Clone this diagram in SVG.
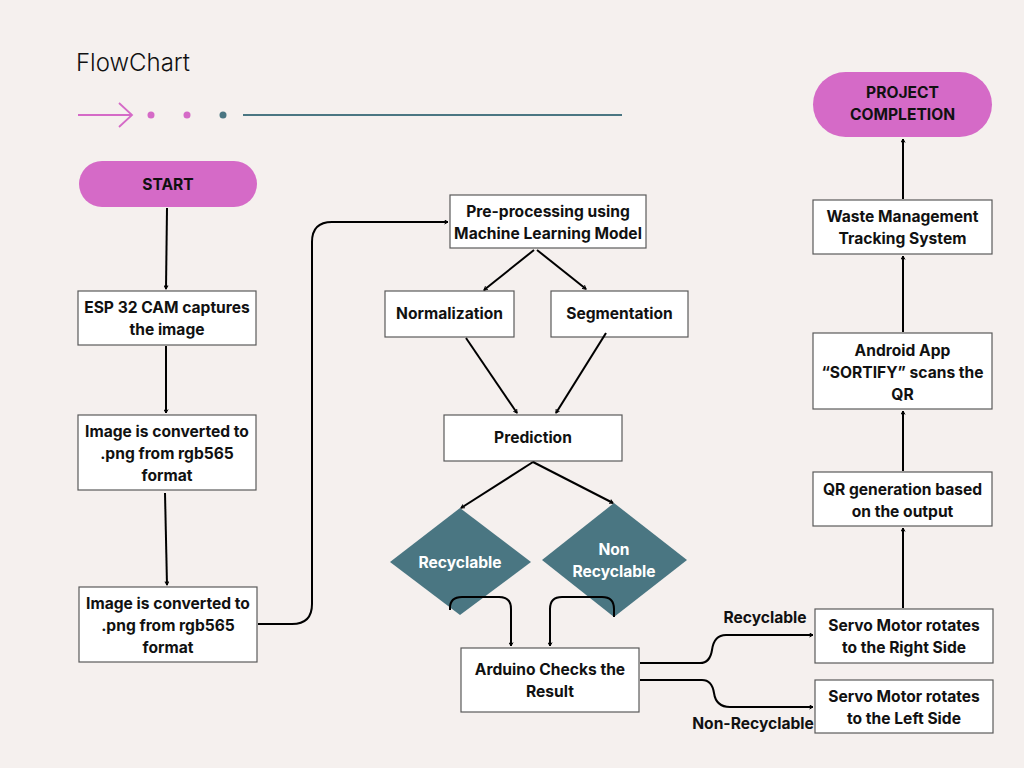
<svg xmlns="http://www.w3.org/2000/svg" width="1024" height="768" viewBox="0 0 1024 768">
<defs>
<style>
.bg{fill:#f5f0ee}
.box{fill:#ffffff;stroke:#5a5a5a;stroke-width:1.2}
.term{fill:#d56ac7}
.dia{fill:#4a7682}
.t{font-family:Inter,"Liberation Sans",sans-serif;font-weight:700;font-size:15.6px;fill:#111;text-anchor:middle}
.tw{font-family:Inter,"Liberation Sans",sans-serif;font-weight:700;font-size:15.6px;fill:#ffffff;text-anchor:middle}
.c{fill:none;stroke:#000;stroke-width:2;marker-end:url(#ah)}
</style>
<marker id="ah" viewBox="0 0 10 10" refX="8" refY="5" markerWidth="5" markerHeight="5" orient="auto" markerUnits="userSpaceOnUse">
<path d="M1,1 L8,5 L1,9" fill="none" stroke="#000" stroke-width="2"/>
</marker>
</defs>
<rect class="bg" x="0" y="0" width="1024" height="768"/>

<g id="header">
<text x="76" y="71" font-family="Inter,'Liberation Sans',sans-serif" font-weight="300" font-size="24" fill="#111">FlowChart</text>
<path d="M78,115 H132 M119,103 L132,115 L119,127" fill="none" stroke="#d56ac7" stroke-width="1.8"/>
<circle cx="151" cy="115" r="3.5" fill="#d56ac7"/>
<circle cx="187" cy="115" r="3.5" fill="#d56ac7"/>
<circle cx="223" cy="115" r="3.5" fill="#4a7682"/>
<line x1="243" y1="115" x2="622" y2="115" stroke="#4a7682" stroke-width="2"/>
</g>

<g id="start">
<rect class="term" x="79" y="161" width="178" height="46" rx="23"/>
<text class="t" x="168" y="190">START</text>
</g>
<g id="esp32">
<rect class="box" x="78" y="291" width="178" height="54"/>
<text class="t" x="167" y="313">ESP 32 CAM captures</text>
<text class="t" x="167" y="335">the image</text>
</g>
<g id="convert1">
<rect class="box" x="78" y="415" width="178" height="75"/>
<text class="t" x="167" y="437">Image is converted to</text>
<text class="t" x="167" y="459">.png from rgb565</text>
<text class="t" x="167" y="481">format</text>
</g>
<g id="convert2">
<rect class="box" x="79" y="587" width="178" height="75"/>
<text class="t" x="168" y="609">Image is converted to</text>
<text class="t" x="168" y="631">.png from rgb565</text>
<text class="t" x="168" y="653">format</text>
</g>
<g id="preprocess">
<rect class="box" x="450" y="195" width="196" height="53"/>
<text class="t" x="548" y="217">Pre-processing using</text>
<text class="t" x="548" y="239">Machine Learning Model</text>
</g>
<g id="normalization">
<rect class="box" x="385" y="291" width="129" height="46"/>
<text class="t" x="449.5" y="319">Normalization</text>
</g>
<g id="segmentation">
<rect class="box" x="551" y="291" width="137" height="46"/>
<text class="t" x="619.5" y="319">Segmentation</text>
</g>
<g id="prediction">
<rect class="box" x="444" y="415" width="178" height="46"/>
<text class="t" x="533" y="443">Prediction</text>
</g>
<g id="recyclable">
<polygon class="dia" points="460,508 531,562 460,615 390,562"/>
<text class="tw" x="460" y="568">Recyclable</text>
</g>
<g id="nonrecyclable">
<polygon class="dia" points="614,503 687,560 614,617 542,560"/>
<text class="tw" x="614" y="555">Non</text>
<text class="tw" x="614" y="577">Recyclable</text>
</g>
<g id="arduino">
<rect class="box" x="461" y="648" width="178" height="64"/>
<text class="t" x="550" y="675">Arduino Checks the</text>
<text class="t" x="550" y="697">Result</text>
</g>
<g id="servoright">
<rect class="box" x="815" y="609" width="178" height="54"/>
<text class="t" x="904" y="631">Servo Motor rotates</text>
<text class="t" x="904" y="653">to the Right Side</text>
</g>
<g id="servoleft">
<rect class="box" x="815" y="680" width="178" height="53"/>
<text class="t" x="904" y="702">Servo Motor rotates</text>
<text class="t" x="904" y="724">to the Left Side</text>
</g>
<g id="qr">
<rect class="box" x="813" y="472" width="179" height="54"/>
<text class="t" x="902.5" y="495">QR generation based</text>
<text class="t" x="902.5" y="517">on the output</text>
</g>
<g id="android">
<rect class="box" x="813" y="333" width="179" height="76"/>
<text class="t" x="902.5" y="356">Android App</text>
<text class="t" x="902.5" y="378">“SORTIFY” scans the</text>
<text class="t" x="902.5" y="400">QR</text>
</g>
<g id="waste">
<rect class="box" x="813" y="200" width="179" height="54"/>
<text class="t" x="902.5" y="222">Waste Management</text>
<text class="t" x="902.5" y="244">Tracking System</text>
</g>
<g id="completion">
<rect class="term" x="813" y="72" width="179" height="65" rx="32.5"/>
<text class="t" x="902.5" y="98">PROJECT</text>
<text class="t" x="902.5" y="120">COMPLETION</text>
</g>

<g id="connectors">
<path class="c" d="M167,208 L166,289"/>
<path class="c" d="M166,346 L166,413"/>
<path class="c" d="M165,493 L167,585"/>
<path class="c" d="M258,624 H292 Q312,624 312,604 V242 Q312,222 332,222 H448"/>
<path class="c" d="M534,250 L484,290"/>
<path class="c" d="M537,250 L586,289"/>
<path class="c" d="M466,338 L517,413"/>
<path class="c" d="M606,333 L556,413"/>
<path class="c" d="M533,462 L461,508"/>
<path class="c" d="M533,462 L613,503"/>
<path class="c" d="M450,610 V608 Q450,597 462,597 H499 Q511,597 511,609 V646"/>
<path class="c" d="M614,617 V609 Q614,597 602,597 H562 Q550,597 550,609 V646"/>
<path class="c" d="M640,663 H700 Q710,663 712,650 Q714,635 726,635 H813"/>
<path class="c" d="M640,680 H702 Q712,680 714,693 Q716,707 730,707 H813"/>
<path class="c" d="M903,608 V528"/>
<path class="c" d="M903,471 V411"/>
<path class="c" d="M903,332 V256"/>
<path class="c" d="M903,199 V139"/>
<text x="765" y="623" font-family="Inter,'Liberation Sans',sans-serif" font-weight="700" font-size="15.6" fill="#111" text-anchor="middle">Recyclable</text>
<text x="753" y="729" font-family="Inter,'Liberation Sans',sans-serif" font-weight="700" font-size="15.6" fill="#111" text-anchor="middle">Non-Recyclable</text>
</g>
</svg>
